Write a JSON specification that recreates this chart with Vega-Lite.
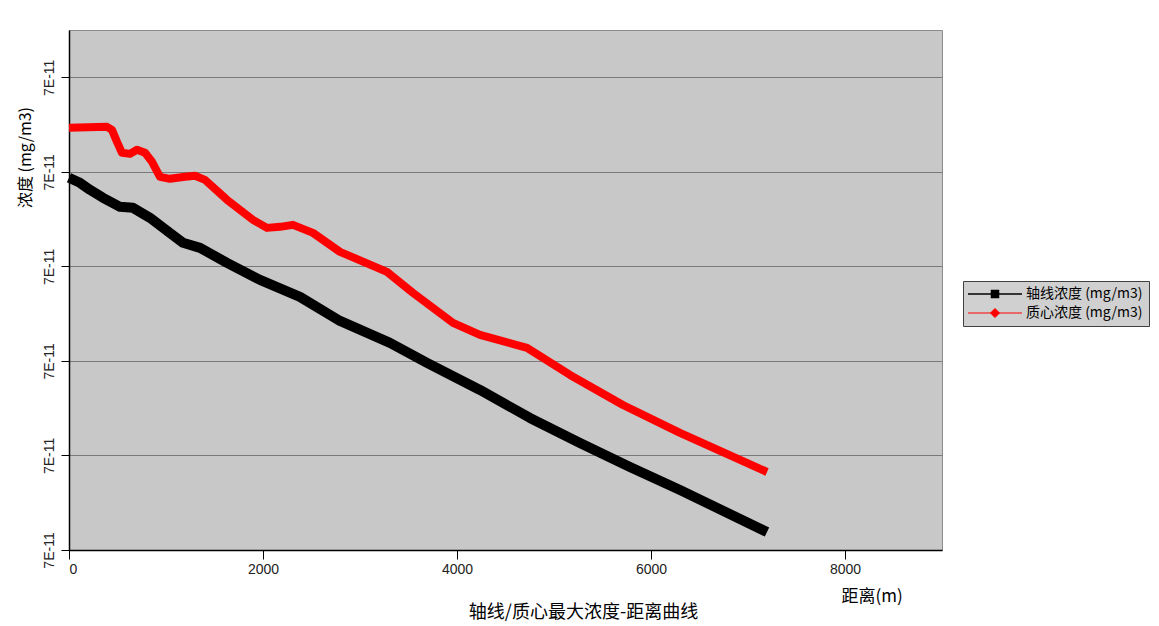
{
  "$schema": "https://vega.github.io/schema/vega-lite/v6.json",
  "width": 873,
  "height": 520,
  "autosize": {"type": "none"},
  "padding": {"left": 69, "top": 30, "right": 217, "bottom": 76},
  "background": "white",
  "config": {
    "view": {"fill": "#c8c8c8", "stroke": "#8c8c8c", "strokeWidth": 1},
    "font": "Liberation Sans"
  },
  "title": {
    "text": "轴线/质心最大浓度-距离曲线",
    "orient": "bottom",
    "anchor": "middle",
    "dx": 78,
    "offset": 0,
    "font": "Noto Sans CJK SC",
    "fontSize": 18,
    "fontWeight": "normal",
    "color": "black"
  },
  "data": {
    "values": [
      {"series": "轴线浓度 (mg/m3)", "distance": 0, "conc": 6.9937e-11},
      {"series": "轴线浓度 (mg/m3)", "distance": 113, "conc": 6.9884e-11},
      {"series": "轴线浓度 (mg/m3)", "distance": 216, "conc": 6.9810e-11},
      {"series": "轴线浓度 (mg/m3)", "distance": 351, "conc": 6.9725e-11},
      {"series": "轴线浓度 (mg/m3)", "distance": 526, "conc": 6.9630e-11},
      {"series": "轴线浓度 (mg/m3)", "distance": 660, "conc": 6.9619e-11},
      {"series": "轴线浓度 (mg/m3)", "distance": 835, "conc": 6.9513e-11},
      {"series": "轴线浓度 (mg/m3)", "distance": 1041, "conc": 6.9354e-11},
      {"series": "轴线浓度 (mg/m3)", "distance": 1175, "conc": 6.9249e-11},
      {"series": "轴线浓度 (mg/m3)", "distance": 1351, "conc": 6.9196e-11},
      {"series": "轴线浓度 (mg/m3)", "distance": 1629, "conc": 6.9037e-11},
      {"series": "轴线浓度 (mg/m3)", "distance": 1969, "conc": 6.8857e-11},
      {"series": "轴线浓度 (mg/m3)", "distance": 2381, "conc": 6.8677e-11},
      {"series": "轴线浓度 (mg/m3)", "distance": 2794, "conc": 6.8423e-11},
      {"series": "轴线浓度 (mg/m3)", "distance": 3309, "conc": 6.8190e-11},
      {"series": "轴线浓度 (mg/m3)", "distance": 3691, "conc": 6.7979e-11},
      {"series": "轴线浓度 (mg/m3)", "distance": 4237, "conc": 6.7693e-11},
      {"series": "轴线浓度 (mg/m3)", "distance": 4752, "conc": 6.7397e-11},
      {"series": "轴线浓度 (mg/m3)", "distance": 5268, "conc": 6.7132e-11},
      {"series": "轴线浓度 (mg/m3)", "distance": 5783, "conc": 6.6878e-11},
      {"series": "轴线浓度 (mg/m3)", "distance": 6299, "conc": 6.6635e-11},
      {"series": "轴线浓度 (mg/m3)", "distance": 7196, "conc": 6.6190e-11},
      {"series": "质心浓度 (mg/m3)", "distance": 0, "conc": 7.0466e-11},
      {"series": "质心浓度 (mg/m3)", "distance": 392, "conc": 7.0476e-11},
      {"series": "质心浓度 (mg/m3)", "distance": 443, "conc": 7.0444e-11},
      {"series": "质心浓度 (mg/m3)", "distance": 495, "conc": 7.0317e-11},
      {"series": "质心浓度 (mg/m3)", "distance": 546, "conc": 7.0201e-11},
      {"series": "质心浓度 (mg/m3)", "distance": 629, "conc": 7.0190e-11},
      {"series": "质心浓度 (mg/m3)", "distance": 701, "conc": 7.0233e-11},
      {"series": "质心浓度 (mg/m3)", "distance": 784, "conc": 7.0201e-11},
      {"series": "质心浓度 (mg/m3)", "distance": 856, "conc": 7.0106e-11},
      {"series": "质心浓度 (mg/m3)", "distance": 938, "conc": 6.9947e-11},
      {"series": "质心浓度 (mg/m3)", "distance": 1041, "conc": 6.9926e-11},
      {"series": "质心浓度 (mg/m3)", "distance": 1196, "conc": 6.9947e-11},
      {"series": "质心浓度 (mg/m3)", "distance": 1299, "conc": 6.9958e-11},
      {"series": "质心浓度 (mg/m3)", "distance": 1402, "conc": 6.9915e-11},
      {"series": "质心浓度 (mg/m3)", "distance": 1629, "conc": 6.9704e-11},
      {"series": "质心浓度 (mg/m3)", "distance": 1897, "conc": 6.9492e-11},
      {"series": "质心浓度 (mg/m3)", "distance": 2041, "conc": 6.9407e-11},
      {"series": "质心浓度 (mg/m3)", "distance": 2175, "conc": 6.9418e-11},
      {"series": "质心浓度 (mg/m3)", "distance": 2309, "conc": 6.9439e-11},
      {"series": "质心浓度 (mg/m3)", "distance": 2515, "conc": 6.9354e-11},
      {"series": "质心浓度 (mg/m3)", "distance": 2794, "conc": 6.9153e-11},
      {"series": "质心浓度 (mg/m3)", "distance": 3278, "conc": 6.8942e-11},
      {"series": "质心浓度 (mg/m3)", "distance": 3546, "conc": 6.8720e-11},
      {"series": "质心浓度 (mg/m3)", "distance": 3959, "conc": 6.8402e-11},
      {"series": "质心浓度 (mg/m3)", "distance": 4237, "conc": 6.8275e-11},
      {"series": "质心浓度 (mg/m3)", "distance": 4722, "conc": 6.8138e-11},
      {"series": "质心浓度 (mg/m3)", "distance": 5165, "conc": 6.7852e-11},
      {"series": "质心浓度 (mg/m3)", "distance": 5711, "conc": 6.7534e-11},
      {"series": "质心浓度 (mg/m3)", "distance": 6299, "conc": 6.7238e-11},
      {"series": "质心浓度 (mg/m3)", "distance": 7196, "conc": 6.6825e-11}
    ]
  },
  "encoding": {
    "x": {
      "field": "distance",
      "type": "quantitative",
      "scale": {"domain": [0, 9000], "nice": false},
      "axis": {
        "values": [0, 2000, 4000, 6000, 8000],
        "format": "d",
        "grid": false,
        "tickSize": 9,
        "tickColor": "black",
        "domainColor": "black",
        "domainWidth": 1.5,
        "labelPadding": 3,
        "labelFontSize": 14,
        "labelColor": "#222222",
        "labelFont": "Liberation Sans",
        "title": "距离(m)",
        "titleFont": "Noto Sans CJK SC",
        "titleFontSize": 17,
        "titleFontWeight": "normal",
        "titleColor": "black",
        "titleX": 772,
        "titleY": 46,
        "titleAlign": "left",
        "titleBaseline": "middle"
      }
    },
    "y": {
      "field": "conc",
      "type": "quantitative",
      "scale": {"domain": [6.6e-11, 7.15e-11], "nice": false, "zero": false},
      "axis": {
        "values": [6.6e-11, 6.7e-11, 6.8e-11, 6.9e-11, 7.0e-11, 7.1e-11],
        "labelExpr": "replace(format(datum.value, '.0e'), 'e', 'E')",
        "grid": true,
        "gridColor": "#7a7a7a",
        "gridWidth": 1,
        "tickSize": 8,
        "tickColor": "black",
        "domainColor": "black",
        "domainWidth": 1.5,
        "labelAngle": 270,
        "labelAlign": "center",
        "labelBaseline": "bottom",
        "labelPadding": 5,
        "labelFontSize": 14,
        "labelColor": "#222222",
        "labelFont": "Liberation Sans",
        "title": "浓度 (mg/m3)",
        "titleFont": "Noto Sans CJK SC",
        "titleFontSize": 16,
        "titleFontWeight": "normal",
        "titleColor": "black",
        "titleAngle": 270,
        "titleX": -44,
        "titleY": 127,
        "titleAlign": "center",
        "titleBaseline": "middle"
      }
    },
    "color": {
      "field": "series",
      "type": "nominal",
      "scale": {"domain": ["轴线浓度 (mg/m3)", "质心浓度 (mg/m3)"], "range": ["#000000", "#ff0000"]},
      "legend": {
        "orient": "none",
        "legendX": 894,
        "legendY": 251,
        "title": null,
        "fillColor": "#d0d0d0",
        "strokeColor": "#404040",
        "padding": 6,
        "labelFont": "Noto Sans CJK SC",
        "labelFontSize": 14,
        "labelColor": "black",
        "symbolSize": 100,
        "symbolOffset": 19,
        "labelOffset": 24,
        "rowPadding": 5,
        "symbolStrokeWidth": 1.5,
        "symbolType": "M-5.4,0H5.4M-0.7,-0.7H0.7V0.7H-0.7Z",
        "encode": {
          "symbols": {
            "update": {
              "shape": {"signal": "datum.value === '轴线浓度 (mg/m3)' ? 'M-5.4,0H5.4M-0.7,-0.7H0.7V0.7H-0.7Z' : 'M-5.4,0H5.4M0,-0.9L0.9,0L0,0.9L-0.9,0Z'"},
              "fill": {"signal": "datum.value === '轴线浓度 (mg/m3)' ? '#000000' : '#ff0000'"},
              "fillOpacity": {"value": 1},
              "strokeWidth": {"signal": "datum.value === '轴线浓度 (mg/m3)' ? 1.5 : 1"}
            }
          }
        }
      }
    }
  },
  "layer": [
    {
      "transform": [{"filter": "datum.series === '轴线浓度 (mg/m3)'"}],
      "mark": {"type": "line", "strokeJoin": "round", "strokeCap": "butt", "strokeWidth": 10}
    },
    {
      "transform": [{"filter": "datum.series === '质心浓度 (mg/m3)'"}],
      "mark": {"type": "line", "strokeJoin": "round", "strokeCap": "butt", "strokeWidth": 8}
    }
  ]
}
